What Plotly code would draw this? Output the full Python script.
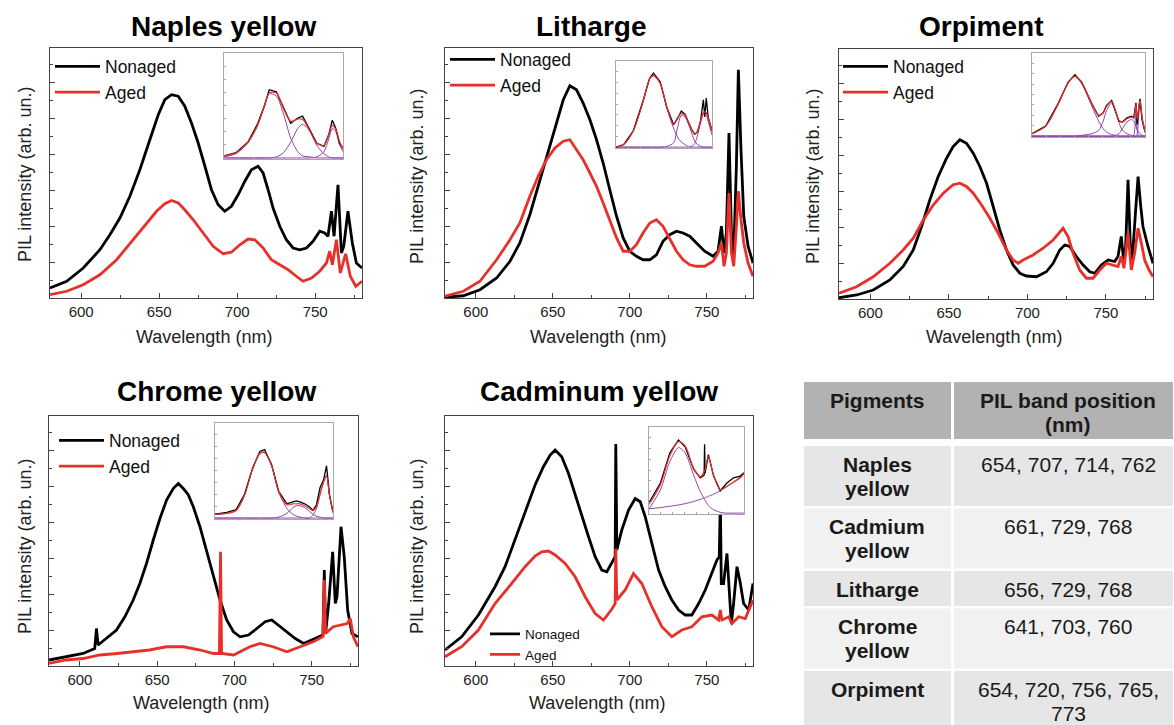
import plotly.graph_objects as go

# ---------------- data (intensities in arbitrary units 0-100) ----------------
panel_titles = ["Naples yellow", "Litharge", "Orpiment", "Chrome yellow", "Cadminum yellow"]
series_names = ["Nonaged", "Aged"]
x_ticks = [600, 650, 700, 750]

naples_wl_nonaged = [580, 590.7, 601.3, 612, 618.4, 624.8, 631.2, 637.6, 644, 649.4, 653.6, 657.9, 662.2, 666.4,
                     670.7, 675, 679.3, 683.5, 687.8, 692, 696.3, 700.6, 704.9, 709.1, 713.4, 716.6, 719.8, 723,
                     727.3, 731.5, 735.8, 740.1, 744.4, 748.6, 752.9, 756.1, 758.2, 760.4, 762.1, 764.6, 766.8,
                     768.3, 771, 773.8, 776.4, 780]
naples_nonaged = [4, 6.7, 12, 19.3, 25.3, 32, 40.7, 51.3, 63.3, 73.3, 79.3, 81.3, 80.7, 76.7, 70, 62, 52.7, 43.3,
                  37.3, 34.7, 36.7, 41.3, 46.7, 51.3, 52.7, 50, 43.3, 36, 28.7, 23.3, 20, 19.3, 20, 22.7, 26.7,
                  26, 24.7, 34.7, 24.7, 45.3, 18, 20.7, 34.7, 22, 14, 12]
naples_wl_aged = [580, 590.7, 601.3, 612, 622.7, 633.4, 641.9, 648.3, 653.6, 657.9, 662.2, 666.4, 671.8, 678.2,
                  684.6, 691, 696.3, 701.7, 707, 711.3, 716.6, 721.9, 727.3, 732.6, 737.9, 742.2, 747.6, 752.9,
                  757.2, 759.3, 761, 763.6, 766.1, 769.5, 772.5, 776, 780]
naples_aged = [1.3, 2.7, 5.3, 9.3, 15.3, 23.3, 30, 34.7, 37.7, 39, 38, 35.3, 31.3, 26, 20.7, 17.7, 18.3, 21.3,
               23.6, 23.3, 20, 15.3, 13.3, 11.3, 8.7, 6.7, 8, 10.7, 14, 18.7, 13.3, 23.3, 10, 17.7, 8.7, 4.7, 6.7]

litharge_wl = [580, 591.9, 602.7, 613.5, 622.2, 628.6, 635.1, 640.5, 645.9, 651.4, 656.8, 661.1, 665.4, 669.7,
               674.1, 678.4, 682.7, 687, 691.4, 695.7, 700, 704.3, 708.6, 713, 717.3, 721.6, 725.9, 730.3, 734.6,
               738.9, 743.2, 748.6, 754.1, 757.3, 759.5, 761.2, 762.7, 764.4, 766, 767.5, 769.2, 770.5, 772.2,
               774, 776.8, 780]
litharge_nonaged = [0.3, 0.9, 3.3, 8, 14.7, 22, 33.3, 44.7, 56.7, 68.7, 79.3, 84.9, 83.3, 78, 71.3, 63.3, 54,
                    43.3, 32.7, 24, 18.7, 16.7, 15.3, 15.3, 17.3, 22.7, 25.3, 26.7, 26, 24.7, 22, 18.7, 16.7,
                    18.7, 28.7, 18, 26, 66, 26, 17.3, 52.7, 91.3, 59.3, 32.7, 20.7, 14]
litharge_aged = [0.7, 2.7, 6.7, 15.3, 23.3, 30, 40.7, 48.7, 55.3, 60, 62.7, 63.3, 59.3, 55.3, 50, 44.7, 38,
                 31.3, 24, 18.7, 18.7, 21.3, 26, 30, 31.3, 28.7, 24, 18.7, 15.3, 13.3, 12.7, 12.7, 14.7, 18,
                 22, 12.7, 18, 42, 18, 12.7, 28.7, 42.7, 31.3, 22, 14, 8.7]

orpiment_wl_nonaged = [580, 591.2, 601.8, 612.4, 620.9, 627.3, 632.6, 637.9, 643.2, 648.5, 652.7, 657, 661.2,
                       665.5, 669.7, 674, 678.2, 682.4, 686.7, 690.9, 695.2, 699.4, 705.8, 712.1, 716.4, 720.6,
                       723.8, 727, 731.2, 735.5, 739.7, 742.9, 747.1, 751.4, 755.6, 757.7, 759.8, 761.5, 762.6,
                       764.1, 765.6, 766.8, 768.8, 770.5, 772.2, 773.6, 776.8, 780]
orpiment_nonaged = [0.5, 1.6, 3.6, 7.6, 13, 19.6, 29, 39.7, 49, 56.3, 61, 63.7, 62.3, 58.3, 53, 46.3, 37, 27.6,
                    19.6, 13.6, 10.3, 9.2, 8.9, 10.9, 14.3, 19.6, 21.6, 21, 17, 13.6, 10.9, 10.3, 13.6, 15.6, 15,
                    17, 25, 14.3, 21, 47.7, 21, 15.6, 34.3, 49, 37, 29, 21, 14.3]
orpiment_wl_aged = [580, 591.2, 601.8, 612.4, 620.9, 627.3, 633.7, 640, 646.4, 652.7, 657, 661.2, 665.5, 670.8,
                    676.1, 681.4, 686.7, 690.9, 694.1, 697.3, 703.6, 710, 716.4, 720.6, 722.7, 725.9, 729.1,
                    733.3, 737.6, 741.8, 746.1, 750.3, 754.5, 757.7, 759.8, 761.5, 764.1, 766.2, 768.3, 770.5,
                    772.6, 774.7, 777.5, 780]
orpiment_aged = [2.3, 4.9, 8.9, 14.3, 19.6, 24.3, 31.6, 37.6, 42.3, 45.7, 46.3, 45, 42.3, 37.6, 32.3, 26.3,
                 19.6, 15.6, 14.3, 15.6, 17.6, 20.3, 23.6, 27, 28.3, 25, 18.3, 11.6, 8.3, 8.3, 11.6, 14.3, 13.6,
                 13, 17, 12.3, 26.3, 11.6, 18.3, 28.3, 22.3, 15.6, 11.6, 8.9]

chrome_wl_nonaged = [580, 591.2, 602.1, 609.6, 610.7, 611.8, 617.2, 623.7, 629.1, 634.5, 638.8, 643.1, 647.5,
                     651.8, 656.1, 660.4, 663.7, 666.9, 670.2, 673.4, 677.7, 682.1, 686.4, 690.7, 695, 699.4,
                     703.7, 709.1, 714.5, 719.9, 724.2, 728.5, 734, 739.4, 744.8, 750.2, 754.5, 757.3, 758.2,
                     759, 761, 763.6, 765.3, 766.4, 769, 771.1, 773.3, 776.1, 780]
chrome_nonaged = [2.4, 3.7, 5, 7, 15, 8.4, 11, 14.4, 19.7, 26.4, 33, 41, 50.4, 59, 66.4, 71, 73, 71, 68.4, 63.7,
                  55.7, 45.7, 35.7, 26.4, 18.4, 13.7, 11.7, 12.4, 15, 17.7, 18.4, 16.4, 13.7, 11, 9, 10.4, 11.7,
                  12.4, 38.4, 13, 25, 45.7, 25, 27.7, 55.7, 43.7, 22.4, 13, 11.7]
chrome_wl_aged = [580, 591, 602, 613, 624, 634.5, 645, 656, 667, 678, 686.5, 690.3, 691, 691.7, 699.5, 710,
                  716.5, 725, 734, 742.5, 751, 757.3, 758.2, 759, 764, 773, 775, 777, 780]
chrome_aged = [1, 2.4, 3, 4.4, 5, 5.7, 6.4, 7.7, 7.7, 6.4, 5, 5, 45.7, 5, 4.4, 7.7, 9, 7.7, 5.7, 7.7, 9.7,
               11.7, 34.4, 13, 15.7, 17, 19, 11.7, 7.7]

cadmium_wl_nonaged = [580, 590.8, 601.7, 612.5, 619, 625.5, 632, 638.5, 643.9, 648.3, 651.5, 655.8, 660.2,
                      664.5, 668.8, 673.2, 677.5, 681.8, 685.1, 688.3, 690.5, 690.9, 691.6, 694.8, 699.2, 703.5,
                      706.8, 710, 714.3, 718.7, 723, 727.3, 731.7, 736, 740.3, 744.7, 749, 753.3, 756.6, 758.1,
                      758.8, 759.4, 760.9, 763.1, 764.8, 765.9, 767.4, 769.6, 771.8, 773.9, 777.2, 780]
cadmium_nonaged = [6.4, 11.7, 20.4, 31.7, 39.7, 50.4, 61, 72.4, 79.7, 84.4, 86.4, 83.7, 77, 68.4, 59.7, 51.7,
                   43.7, 38.4, 37.7, 41, 43.7, 88.8, 46.4, 54.4, 62.4, 67, 65.7, 59.7, 49, 38.4, 31.7, 26.4,
                   22.4, 20.4, 20.4, 25, 30.4, 37, 42.4, 43.7, 67, 33, 33, 45, 25, 17, 25, 39.7, 33, 25, 22.4,
                   33]
cadmium_wl_aged = [580, 590.8, 601.7, 612.5, 623.3, 632, 638.5, 642.8, 647.2, 651.5, 658, 664.5, 671, 677.5,
                   682.9, 688.3, 690.5, 690.9, 691.6, 697, 702.4, 707.8, 714.3, 720.8, 727.3, 733.8, 740.3,
                   746.8, 753.3, 757.7, 758.8, 759.8, 764.2, 766.3, 770.7, 775, 780]
cadmium_aged = [3.7, 7.7, 14.4, 25, 33, 39.7, 44, 45.7, 46, 44.4, 41, 35.7, 27.7, 21, 18.4, 22.7, 25, 47, 26.4,
                30.4, 37, 33, 23.7, 15.7, 11.7, 14.4, 15.7, 19.7, 20.4, 18.4, 22.4, 18.4, 19.7, 17, 19.7, 19,
                26.4]

# inset (peak-fit) data, x in relative units 0-100
naples_inset_x = [0, 10, 20, 28, 34, 38, 44, 50, 56, 62, 66, 72, 78, 84, 88, 91, 94, 97, 100]
naples_inset_data = [2, 5, 15, 32, 50, 65, 63, 48, 33, 38, 40, 27, 14, 11, 22, 36, 28, 14, 9]
naples_inset_fit = [2, 5, 15, 31, 50, 62, 62, 47, 35, 37, 37, 26, 14, 12, 22, 31, 27, 16, 9]
naples_inset_p1 = [1, 4, 14, 30, 49, 61, 59, 42, 19, 6, 2, 1, 0, 0, 0, 0, 0, 0, 0]
naples_inset_p2 = [0, 0, 0, 0, 0, 0, 1, 5, 15, 28, 32, 26, 12, 4, 1, 0, 0, 0, 0]
naples_inset_p3 = [0, 0, 0, 0, 0, 0, 0, 0, 0, 0, 0, 0, 1, 6, 18, 28, 25, 13, 6]

litharge_inset_x = [0, 8, 18, 28, 35, 39, 46, 53, 60, 64, 68, 72, 75, 79, 82, 85, 88, 91, 92.5, 94, 96, 100]
litharge_inset_data = [0, 3, 19, 53, 80, 86, 76, 46, 26, 33, 42, 38, 30, 20, 15, 18, 30, 55, 35, 57, 35, 19]
litharge_inset_fit = [0, 3, 19, 52, 79, 83, 74, 46, 26, 34, 39, 37, 30, 20, 15, 19, 30, 40, 41, 40, 34, 19]
litharge_inset_p1 = [0, 3, 19, 52, 79, 83, 74, 45, 22, 12, 6, 3, 1, 0, 0, 0, 0, 0, 0, 0, 0, 0]
litharge_inset_p2 = [0, 0, 0, 0, 0, 0, 0, 1, 5, 22, 37, 35, 28, 16, 7, 3, 1, 0, 0, 0, 0, 0]
litharge_inset_p3 = [0, 0, 0, 0, 0, 0, 0, 0, 0, 0, 0, 0, 0, 1, 4, 14, 28, 38, 40, 38, 30, 14]

orpiment_inset_x = [0, 12, 23, 32, 38, 44, 53, 59, 63, 66, 70.5, 74, 77, 80, 84, 88, 90, 92, 93, 94.5, 95.6, 97.5, 100]
orpiment_inset_data = [3, 12, 39, 65, 74, 65, 39, 24, 28, 37, 43, 30, 18, 17, 22, 24, 22, 40, 14, 35, 45, 20, 6]
orpiment_inset_fit = [3, 12, 38, 64, 72, 64, 39, 25, 28, 36, 42, 30, 19, 17, 21, 23, 22, 38, 20, 35, 43, 22, 6]
orpiment_inset_p1 = [3, 12, 38, 64, 72, 63, 36, 18, 9, 5, 2, 1, 0, 0, 0, 0, 0, 0, 0, 0, 0, 0, 0]
orpiment_inset_p2 = [0, 0, 0, 0, 0, 1, 3, 7, 18, 31, 40, 29, 16, 7, 3, 1, 0, 0, 0, 0, 0, 0, 0]
orpiment_inset_p3 = [0, 0, 0, 0, 0, 0, 0, 0, 0, 0, 0, 1, 3, 9, 17, 20, 18, 12, 8, 5, 3, 1, 0]
orpiment_inset_p4 = [0, 0, 0, 0, 0, 0, 0, 0, 0, 0, 0, 0, 0, 0, 0, 0, 1, 30, 8, 0, 0, 0, 0]
orpiment_inset_p5 = [0, 0, 0, 0, 0, 0, 0, 0, 0, 0, 0, 0, 0, 0, 0, 0, 0, 0, 2, 25, 40, 18, 4]

chrome_inset_x = [0, 10, 18, 25, 32, 38, 42, 48, 54, 61, 66, 69, 72, 76, 80, 83, 86, 89, 92, 94.5, 97, 100]
chrome_inset_data = [4, 6, 9, 25, 53, 70, 72, 56, 28, 15, 17, 18, 17, 15, 12, 8, 14, 32, 40, 55, 25, 6]
chrome_inset_fit = [4, 5, 8, 24, 52, 68, 69, 55, 28, 14, 15, 15, 15, 13, 10, 8, 12, 25, 38, 45, 24, 6]
chrome_inset_p1 = [4, 5, 8, 24, 52, 68, 69, 55, 27, 10, 4, 2, 1, 0, 0, 0, 0, 0, 0, 0, 0, 0]
chrome_inset_p2 = [0, 0, 0, 0, 0, 0, 0, 0, 1, 5, 11, 13, 13, 11, 7, 4, 2, 1, 0, 0, 0, 0]
chrome_inset_p3 = [0, 0, 0, 0, 0, 0, 0, 0, 0, 0, 0, 0, 0, 0, 0, 3, 10, 25, 38, 44, 24, 6]

cadmium_inset_x = [0, 12, 22, 31, 38, 47, 54, 58, 58.5, 59, 62.5, 68, 75, 82, 89, 96, 100]
cadmium_inset_data = [12, 35, 70, 85, 77, 51, 41, 44, 80, 46, 68, 43, 26, 35, 41, 43, 47]
cadmium_inset_fit = [10, 33, 67, 83, 78, 52, 42, 48, 49, 50, 66, 44, 27, 31, 36, 41, 46]
cadmium_inset_p1 = [5, 27, 60, 76, 70, 44, 25, 17, 16, 15, 9, 4, 1, 0, 0, 0, 0]
cadmium_inset_base = [5, 6.5, 8, 9.5, 11, 13.5, 16, 17.5, 17.6, 17.8, 19.5, 22, 26, 31, 36, 42, 46]

table_header = ["Pigments", "PIL band position<br>(nm)"]
table_pigments = ["Naples<br>yellow", "Cadmium<br>yellow", "Litharge", "Chrome<br>yellow", "Orpiment"]
table_bands = ["654, 707, 714, 762", "661, 729, 768", "656, 729, 768", "641, 703, 760", "654, 720, 756, 765,<br>773"]

# ---------------- layout geometry (pixels) ----------------
W, H = 1174, 725
FONT = "Arial, Liberation Sans, sans-serif"
BLACK = "#000000"
RED = "#e8302a"
PURPLE = "#8e44a8"


def px_x(a, b):
    return [a / W, b / W]


def px_y(top, bottom):
    return [1 - bottom / H, 1 - top / H]


panels = [
    dict(frame=(50, 362, 48, 298), title=(223, 27), xt=(204, 337), yt=(25, 175),
         legend=(105, 67, 17.5, 45), inset=(224, 343, 53, 159),
         series=((naples_wl_nonaged, naples_nonaged), (naples_wl_aged, naples_aged)),
         inset_x=naples_inset_x, inset_data=naples_inset_data, inset_fit=naples_inset_fit,
         inset_comps=[naples_inset_p1, naples_inset_p2, naples_inset_p3]),
    dict(frame=(445, 753, 48, 298), title=(591, 27), xt=(598, 337), yt=(417, 177),
         legend=(500, 60, 17.5, 45), inset=(616, 712, 61, 148),
         series=((litharge_wl, litharge_nonaged), (litharge_wl, litharge_aged)),
         inset_x=litharge_inset_x, inset_data=litharge_inset_data, inset_fit=litharge_inset_fit,
         inset_comps=[litharge_inset_p1, litharge_inset_p2, litharge_inset_p3]),
    dict(frame=(839, 1153, 49, 299), title=(981, 27), xt=(994, 337), yt=(813, 177),
         legend=(893, 67, 17.5, 45), inset=(1032, 1145, 53, 137),
         series=((orpiment_wl_nonaged, orpiment_nonaged), (orpiment_wl_aged, orpiment_aged)),
         inset_x=orpiment_inset_x, inset_data=orpiment_inset_data, inset_fit=orpiment_inset_fit,
         inset_comps=[orpiment_inset_p1, orpiment_inset_p2, orpiment_inset_p3, orpiment_inset_p4,
                      orpiment_inset_p5]),
    dict(frame=(49, 358, 416, 666), title=(216, 392), xt=(201, 703), yt=(25, 547),
         legend=(109, 441, 17.5, 45), inset=(215, 333, 423, 519),
         series=((chrome_wl_nonaged, chrome_nonaged), (chrome_wl_aged, chrome_aged)),
         inset_x=chrome_inset_x, inset_data=chrome_inset_data, inset_fit=chrome_inset_fit,
         inset_comps=[chrome_inset_p1, chrome_inset_p2, chrome_inset_p3]),
    dict(frame=(445, 753, 416, 666), title=(599, 392), xt=(597, 703), yt=(417, 547),
         legend=(525, 633, 13.5, 30), inset=(649, 744, 427, 514),
         series=((cadmium_wl_nonaged, cadmium_nonaged), (cadmium_wl_aged, cadmium_aged)),
         inset_x=cadmium_inset_x, inset_data=cadmium_inset_data, inset_fit=cadmium_inset_fit,
         inset_comps=[cadmium_inset_p1, cadmium_inset_base]),
]

fig = go.Figure()
layout = dict(
    width=W, height=H, margin=dict(l=0, r=0, t=0, b=0),
    paper_bgcolor="white", plot_bgcolor="white",
    font=dict(family=FONT, color="#222222"),
    showlegend=True,
)
annotations = []
shapes = []

for i, p in enumerate(panels):
    n = i + 1
    m = i + 6
    xs = "" if n == 1 else str(n)
    x0, x1, y0, y1 = p["frame"]
    for (wl, vals), name, color in zip(p["series"], series_names, [BLACK, RED]):
        fig.add_trace(go.Scatter(
            x=wl, y=vals, mode="lines", name=name,
            line=dict(color=color, width=2.8),
            xaxis="x" + xs, yaxis="y" + xs, legend="legend" + xs,
        ))
    layout["xaxis" + xs] = dict(
        domain=px_x(x0, x1), range=[580, 780], anchor="y" + xs,
        showline=True, mirror=True, linecolor="#444444", linewidth=1.2,
        ticks="inside", ticklen=5, tickcolor="#444444", tickvals=x_ticks,
        minor=dict(ticks="inside", ticklen=3, dtick=25, tick0=0, tickcolor="#444444"),
        showgrid=False, zeroline=False,
        tickfont=dict(size=15, color="#222222", family=FONT), ticklabelstandoff=0,
    )
    layout["yaxis" + xs] = dict(
        domain=px_y(y0, y1), range=[0, 100], anchor="x" + xs,
        showline=True, mirror=True, linecolor="#444444", linewidth=1.2,
        ticks="inside", ticklen=5, tickcolor="#444444", tick0=0, dtick=14.4,
        minor=dict(ticks="inside", ticklen=3, dtick=7.2, tick0=0, tickcolor="#444444"),
        showticklabels=False, showgrid=False, zeroline=False,
    )
    tx, ty, fs, iw = p["legend"]
    layout["legend" + xs] = dict(
        x=(tx - iw - 10) / W, y=1 - (ty - fs - 1) / H, xanchor="left", yanchor="top",
        bgcolor="rgba(0,0,0,0)", borderwidth=0, itemwidth=iw,
        font=dict(size=fs, family=FONT, color="#111111"),
        tracegroupgap=0, itemclick=False,
    )
    ix0, ix1, iy0, iy1 = p["inset"]
    ixs, iys = "x" + str(m), "y" + str(m)
    for comp in p["inset_comps"]:
        fig.add_trace(go.Scatter(x=p["inset_x"], y=comp, mode="lines",
                                 line=dict(color=PURPLE, width=1, shape="spline", smoothing=0.8),
                                 xaxis=ixs, yaxis=iys, showlegend=False, hoverinfo="skip"))
    fig.add_trace(go.Scatter(x=p["inset_x"], y=p["inset_data"], mode="lines", line=dict(color=BLACK, width=1.3),
                             xaxis=ixs, yaxis=iys, showlegend=False, hoverinfo="skip"))
    fig.add_trace(go.Scatter(x=p["inset_x"], y=p["inset_fit"], mode="lines",
                             line=dict(color=RED, width=1.2, shape="spline", smoothing=0.8),
                             xaxis=ixs, yaxis=iys, showlegend=False, hoverinfo="skip"))
    layout["xaxis" + str(m)] = dict(
        domain=px_x(ix0, ix1), range=[0, 100], anchor=iys,
        showline=True, mirror=True, linecolor="#a8a8a8", linewidth=1,
        ticks="inside", ticklen=2, tickcolor="#a8a8a8", dtick=12.5,
        showticklabels=False, showgrid=False, zeroline=False,
    )
    layout["yaxis" + str(m)] = dict(
        domain=px_y(iy0, iy1), range=[-1, 100], anchor=ixs,
        showline=True, mirror=True, linecolor="#a8a8a8", linewidth=1,
        ticks="inside", ticklen=2, tickcolor="#a8a8a8", dtick=12.5,
        showticklabels=False, showgrid=False, zeroline=False,
    )
    annotations.append(dict(text="<b>" + panel_titles[i] + "</b>", x=p["title"][0] / W, y=1 - p["title"][1] / H,
                            xref="paper", yref="paper", showarrow=False, xanchor="center", yanchor="middle",
                            font=dict(size=28, family=FONT, color="#000000")))
    annotations.append(dict(text="Wavelength (nm)", x=p["xt"][0] / W, y=1 - p["xt"][1] / H,
                            xref="paper", yref="paper", showarrow=False, xanchor="center", yanchor="middle",
                            font=dict(size=18, family=FONT, color="#222222")))
    annotations.append(dict(text="PIL intensity (arb. un.)", x=p["yt"][0] / W, y=1 - p["yt"][1] / H,
                            xref="paper", yref="paper", showarrow=False, xanchor="center", yanchor="middle",
                            textangle=-90, font=dict(size=18, family=FONT, color="#222222")))

# ---------------- table (cells drawn as shapes, text as annotations) ----------------
TABLE_COLS = [(804, 951), (954, 1173)]
TEXT_X = [877, 1068]
HEADER_TOP, HEADER_H, HEADER_GAP, ROW_GAP = 382, 57, 7, 2.5
ONE_LINE_H, TWO_LINE_H, FIRST_LINE, LINE_STEP = 35, 60, 18, 24
HEADER_FILL = "#b2b2b2"
ROW_FILLS = ["#e6e6e6", "#f1f1f1"]


def cell(col, top, bottom, fill):
    a, b = TABLE_COLS[col]
    shapes.append(dict(type="rect", xref="paper", yref="paper", x0=a / W, x1=b / W,
                       y0=1 - bottom / H, y1=1 - top / H, fillcolor=fill, line=dict(width=0), layer="below"))


def cell_text(col, top, text, bold):
    for k, line in enumerate(text.split("<br>")):
        annotations.append(dict(text=("<b>" + line + "</b>") if bold else line,
                                x=TEXT_X[col] / W, y=1 - (top + FIRST_LINE + k * LINE_STEP) / H,
                                xref="paper", yref="paper", showarrow=False, xanchor="center",
                                yanchor="middle", font=dict(size=21, family=FONT, color="#1a1a1a")))


for c, h in enumerate(table_header):
    cell(c, HEADER_TOP, HEADER_TOP + HEADER_H, HEADER_FILL)
    cell_text(c, HEADER_TOP, h, True)

top = HEADER_TOP + HEADER_H + HEADER_GAP
for r, (pig, band) in enumerate(zip(table_pigments, table_bands)):
    lines = max(len(pig.split("<br>")), len(band.split("<br>")))
    h = ONE_LINE_H if lines == 1 else TWO_LINE_H
    fill = ROW_FILLS[r % 2]
    cell(0, top, top + h, fill)
    cell(1, top, top + h, fill)
    cell_text(0, top, pig, True)
    cell_text(1, top, band, False)
    top += h + ROW_GAP

layout["annotations"] = annotations
layout["shapes"] = shapes
fig.update_layout(**layout)
fig.write_html("out.html", config={"displayModeBar": False},
               post_script="document.body.style.margin='0px';")
